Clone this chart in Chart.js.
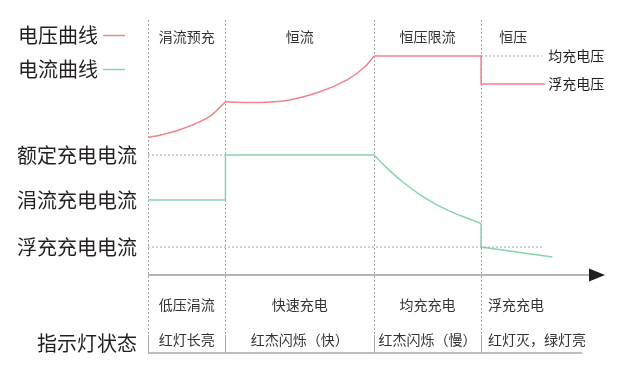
<!DOCTYPE html>
<html>
<head>
<meta charset="utf-8">
<script src="https://cdn.jsdelivr.net/npm/chart.js@4"></script>
<style>
  html, body { margin: 0; padding: 0; background: #fff; }
  #wrap { width: 633px; height: 365px; }
</style>
</head>
<body>
<div id="wrap"><canvas id="chart" width="633" height="365"></canvas></div>
<script>
// phases (time axis, arbitrary units)
const phaseBounds = [0, 10, 29.2, 43, 51.3];
const phaseTitles = ['涓流预充', '恒流', '恒压限流', '恒压'];
const stageNames = ['低压涓流', '快速充电', '均充充电', '浮充充电'];
const ledStates = ['红灯长亮', '红杰闪烁（快）', '红杰闪烁（慢）', '红灯灭，绿灯亮'];
const axisEnd = 59;
const refEnd = 50.9;

// voltage curve (V)
const vTrickleT = [0, 1.77, 3.91, 6.07, 8.23, 10];
const vTrickle = [12.07, 12.15, 12.28, 12.46, 12.72, 13.09];
const vConstT = [10, 13.6, 17.9, 22.2, 25.7, 27.8, 29.2];
const vConst = [13.09, 13.07, 13.13, 13.38, 13.72, 14.05, 14.4];
const vHoldT = [29.2, 43, 43, 51.3];
const vHold = [14.4, 14.4, 13.6, 13.6];

// current curve (A)
const iStepT = [0, 10, 10, 29.2];
const iStep = [6.25, 6.25, 10, 10];
const iTaperT = [29.2, 30.8, 32.9, 35.1, 37.3, 39.4, 41.6, 43];
const iTaper = [10, 8.95, 7.75, 6.7, 5.85, 5.2, 4.65, 4.29];
const iFloatT = [43, 43, 52.2];
const iFloat = [4.29, 2.33, 1.5];

// reference levels
const eqVoltage = 14.4, floatVoltage = 13.6;
const ratedCurrent = 10, trickleCurrent = 6.25, floatCurrent = 2.33;
const currentLabels = [['额定充电电流', ratedCurrent], ['涓流充电电流', trickleCurrent], ['浮充充电电流', floatCurrent]];
const voltageLabels = [['均充电压', eqVoltage], ['浮充电压', floatVoltage]];

const RED = '#f0848b';
const GREEN = '#86d5ac';
const GREY = '#a8a8a8';
const TEXT = '#231f20';
const FONT = '"Noto Sans CJK SC", "Noto Sans", sans-serif';

const pts = (xs, ys) => xs.map((x, i) => ({ x: x, y: ys[i] }));

function curve(data, color, axis, smooth) {
    return {
        data: data, yAxisID: axis, borderColor: color, borderWidth: 1.5,
        pointRadius: 0, fill: false,
        tension: smooth ? 0.4 : 0
    };
}
function guide(data, axis) {
    return {
        data: data, yAxisID: axis, borderColor: GREY, borderWidth: 1,
        borderDash: [2, 2], pointRadius: 0, fill: false, tension: 0
    };
}

const overlay = {
    id: 'overlay',
    beforeDatasetsDraw(chart) {
        const ctx = chart.ctx, a = chart.chartArea, x = chart.scales.x;
        ctx.save();
        ctx.strokeStyle = GREY;
        ctx.lineWidth = 1;
        phaseBounds.slice(0, 4).forEach(b => {
            const px = Math.round(x.getPixelForValue(b)) + 0.5;
            ctx.setLineDash([2, 2]);
            ctx.beginPath(); ctx.moveTo(px, a.top); ctx.lineTo(px, a.bottom + 60); ctx.stroke();
            ctx.setLineDash([]);
            ctx.beginPath(); ctx.moveTo(px, a.bottom + 60); ctx.lineTo(px, a.bottom + 78); ctx.stroke();
        });
        // bottom table line
        ctx.lineWidth = 1.5;
        ctx.beginPath();
        ctx.moveTo(x.getPixelForValue(0), a.bottom + 78);
        ctx.lineTo(x.getPixelForValue(refEnd) + 40, a.bottom + 78);
        ctx.stroke();
        ctx.restore();
    },
    afterDatasetsDraw(chart) {
        const ctx = chart.ctx, a = chart.chartArea, x = chart.scales.x;
        const yV = chart.scales.yV, yI = chart.scales.yI;
        ctx.save();
        // time axis with arrow
        const tip = x.getPixelForValue(axisEnd);
        ctx.strokeStyle = '#b4b4b4';
        ctx.lineWidth = 2;
        ctx.beginPath(); ctx.moveTo(a.left, a.bottom); ctx.lineTo(tip - 14, a.bottom); ctx.stroke();
        ctx.fillStyle = '#231f20';
        ctx.beginPath();
        ctx.moveTo(tip, a.bottom);
        ctx.lineTo(tip - 16, a.bottom - 6.5);
        ctx.lineTo(tip - 16, a.bottom + 6.5);
        ctx.closePath(); ctx.fill();

        // legend
        ctx.textBaseline = 'middle';
        ctx.font = '20px ' + FONT;
        ctx.fillStyle = TEXT;
        ctx.textAlign = 'left';
        [['电压曲线', RED, 35], ['电流曲线', GREEN, 69]].forEach(l => {
            ctx.fillText(l[0], 18, l[2]);
            ctx.strokeStyle = l[1]; ctx.lineWidth = 1.5;
            ctx.beginPath(); ctx.moveTo(103, l[2] + 0.5); ctx.lineTo(125, l[2] + 0.5); ctx.stroke();
        });

        // current levels on the left
        ctx.textAlign = 'right';
        currentLabels.forEach(l => ctx.fillText(l[0], a.left - 11, yI.getPixelForValue(l[1])));
        ctx.fillText('指示灯状态', a.left - 11, a.bottom + 68);

        // voltage levels on the right
        ctx.font = '14px ' + FONT;
        ctx.textAlign = 'left';
        voltageLabels.forEach(l => ctx.fillText(l[0], x.getPixelForValue(refEnd) + 6, yV.getPixelForValue(l[1])));

        // phase titles and table rows
        ctx.fillStyle = '#333';
        for (let i = 0; i < 4; i++) {
            const x0 = x.getPixelForValue(phaseBounds[i]);
            const mid = (x0 + x.getPixelForValue(phaseBounds[i + 1])) / 2;
            ctx.textAlign = 'center';
            ctx.fillText(phaseTitles[i], mid, a.top + 17);
            if (i < 3) {
                ctx.fillText(stageNames[i], mid, a.bottom + 30);
                ctx.fillText(ledStates[i], mid, a.bottom + 65);
            } else {
                ctx.textAlign = 'left';
                ctx.fillText(stageNames[i], x0 + 7, a.bottom + 30);
                ctx.fillText(ledStates[i], x0 + 7, a.bottom + 65);
            }
        }
        ctx.restore();
    }
};

new Chart(document.getElementById('chart'), {
    type: 'line',
    data: {
        datasets: [
            guide([{ x: 0, y: ratedCurrent }, { x: phaseBounds[1], y: ratedCurrent }], 'yI'),
            guide([{ x: 0, y: floatCurrent }, { x: refEnd, y: floatCurrent }], 'yI'),
            guide([{ x: phaseBounds[3], y: eqVoltage }, { x: refEnd, y: eqVoltage }], 'yV'),
            curve(pts(vTrickleT, vTrickle), RED, 'yV', true),
            curve(pts(vConstT, vConst), RED, 'yV', true),
            curve(pts(vHoldT, vHold), RED, 'yV', false),
            curve(pts(iStepT, iStep), GREEN, 'yI', false),
            curve(pts(iTaperT, iTaper), GREEN, 'yI', true),
            curve(pts(iFloatT, iFloat), GREEN, 'yI', false)
        ]
    },
    options: {
        responsive: false,
        animation: false,
        layout: { padding: { left: 148, right: 28, top: 20, bottom: 90 } },
        plugins: { legend: { display: false }, tooltip: { enabled: false } },
        scales: {
            x: { type: 'linear', min: 0, max: axisEnd, display: false },
            yV: { type: 'linear', min: 8.143, max: 15.429, display: false },
            yI: { type: 'linear', min: 0, max: 21.25, display: false }
        }
    },
    plugins: [overlay]
});
</script>
</body>
</html>
